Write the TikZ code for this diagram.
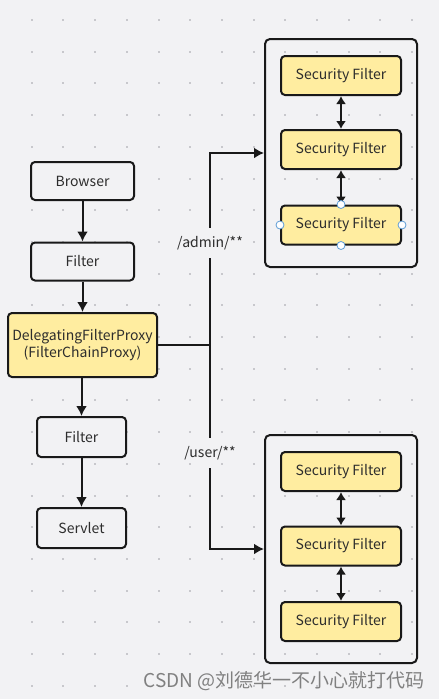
\documentclass[tikz,border=0pt]{standalone}
\usepackage{fontspec}
\setmainfont{Noto Sans CJK SC}
\usetikzlibrary{arrows.meta,positioning}
\definecolor{bg}{RGB}{242,242,244}
\definecolor{dotc}{RGB}{200,200,204}
\definecolor{ink}{RGB}{25,25,25}
\definecolor{txt}{RGB}{45,45,45}
\definecolor{sunny}{RGB}{255,237,160}
\definecolor{handle}{RGB}{91,155,213}

\begin{document}
\begin{tikzpicture}
  [
    x=1pt,y=-1pt,
    box/.style={  draw=ink,  line width=2pt,  rounded corners=4pt,  fill=bg,  inner sep=0pt,  text=txt,  font=\fontsize{14}{17}\selectfont,  minimum width=103pt,  minimum height=38pt},
    hot/.style={  box,  fill=sunny},
    secf/.style={  hot,  minimum width=120pt,  minimum height=39pt},
    frame/.style={  draw=ink,  line width=2pt,  rounded corners=5pt,  minimum width=152pt,  minimum height=228pt},
    lbl/.style={  text=txt,  font=\fontsize{14}{17}\selectfont,  inner xsep=2pt,  inner ysep=8pt},
    link/.style={  draw=ink,  line width=2pt},
    arr/.style={  link,  -{Latex[length=10pt,width=11pt]}},
    both/.style={  link,  {Latex[length=8pt,width=10pt]}-{Latex[length=8pt,width=10pt]}},
    grab/.style={  circle,  draw=handle,  fill=white,  line width=0.8pt,  minimum size=8pt,  inner sep=0pt}
  ]
  \fill[bg] (0,0) rectangle (439,699);
  \useasboundingbox (0,0) rectangle (439,699);
  % dot grid
  \foreach \i in {1,...,13}
    \foreach \j in {0,...,21}
      \fill[dotc] (\i*31.7-1,20+\j*31.7-1) rectangle ++(2,2);

  \node[box] (browser) at (82.5,181) {Browser};
  \node[box] (filter1) at (82.5,261.5) {Filter};
  \node[hot,minimum width=149pt,minimum height=64pt,align=center] (proxy) at (82.5,345) {DelegatingFilterProxy\\(FilterChainProxy)};
  \node[box,minimum width=89pt,minimum height=40pt] (filter2) at (81.5,437) {Filter};
  \node[box,minimum width=89pt,minimum height=40pt] (servlet) at (81.5,528) {Servlet};

  \node[frame] (admins) at (341,153) {};
  \node[secf] (sa1) at (341,75.5) {Security Filter};
  \node[secf] (sa2) at (341,149.5) {Security Filter};
  \node[secf] (sa3) at (341,225) {Security Filter};

  \node[frame] (users) at (341,549) {};
  \node[secf] (sb1) at (341,471.5) {Security Filter};
  \node[secf] (sb2) at (341,546) {Security Filter};
  \node[secf] (sb3) at (341,621.5) {Security Filter};

  \coordinate (split) at (210,345);
  \node[lbl] (admin) at (210,243) {/admin/**};
  \node[lbl] (user) at (210,453) {/user/**};

  \draw[arr] (browser) -- (filter1);
  \draw[arr] (filter1) -- (proxy);
  \draw[arr] (proxy.south -| filter2) -- (filter2);
  \draw[arr] (filter2) -- (servlet);

  \draw[link] (proxy.east) -- (split) -- (admin);
  \draw[link] (split) -- (user);
  \draw[arr] (admin) |- (admins.west);
  \draw[arr] (user) |- (users.west);

  \draw[both] (sa1) -- (sa2);
  \draw[both] (sa2) -- (sa3);
  \draw[both] (sb1) -- (sb2);
  \draw[both] (sb2) -- (sb3);

  % selection handles
  \foreach \a in {north,south,east,west}
    \node[grab] at (sa3.\a) {};

  \node[anchor=east,text=gray,font=\fontsize{19}{22}\selectfont] (mark) at (428,681) {CSDN @刘德华一不小心就打代码};
\end{tikzpicture}
\end{document}
